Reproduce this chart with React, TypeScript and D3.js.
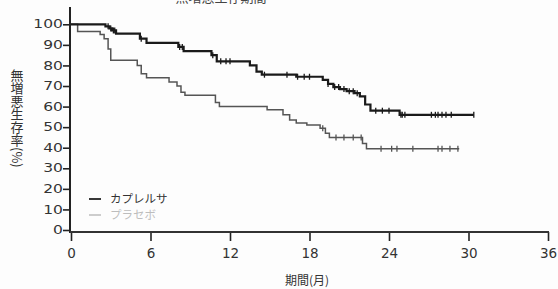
import React, { useEffect, useRef } from "react";
import * as d3 from "d3";

// Kaplan-Meier steps: [month, PFS %]
const caprelsaSteps: [number, number][] = [
  [0, 100], [2.6, 99], [2.9, 98], [3.1, 97], [3.4, 95.5], [5.2, 93], [5.7, 91],
  [8.1, 89], [8.5, 87], [10.6, 85], [11.0, 82], [13.5, 80], [14.0, 77], [14.4, 75.5],
  [17.0, 74.5], [19.0, 73], [19.4, 71], [19.8, 69.5], [20.3, 68.5], [20.8, 67.5],
  [21.4, 66.5], [21.8, 65], [22.2, 61], [22.6, 58], [24.8, 56], [30.4, 56],
];
const placeboSteps: [number, number][] = [
  [0, 100], [0.5, 96.5], [2.2, 95], [2.5, 93], [2.8, 88], [3.0, 82.5], [5.0, 80],
  [5.3, 76], [5.7, 74], [7.4, 72], [8.0, 70], [8.3, 67], [8.6, 65.5], [10.9, 62],
  [11.2, 60], [14.8, 58.5], [16.0, 56], [16.5, 53.5], [17.0, 52], [17.8, 51],
  [18.8, 49.5], [19.2, 47], [19.5, 45], [22.0, 42], [22.3, 39.5], [29.3, 39.5],
];

// censored observations (months)
const caprelsaCensors = [
  2.8, 3.0, 3.2, 3.3, 5.3, 8.2, 8.4, 10.7, 11.3, 11.7, 12.0, 14.6, 16.3, 17.1, 17.6,
  18.0, 19.4, 19.9, 20.2, 20.6, 21.0, 21.3, 21.6, 23.0, 23.5, 24.0, 24.9, 25.0, 25.2,
  27.2, 27.5, 27.7, 28.0, 28.3, 28.7, 30.4,
];
const placeboCensors = [
  19.0, 20.0, 20.6, 21.3, 21.9, 23.4, 24.2, 24.6, 25.8, 27.7, 28.0, 28.6, 29.2,
];

const xTicks = [0, 6, 12, 18, 24, 30, 36];
const yTicks = [0, 10, 20, 30, 40, 50, 60, 70, 80, 90, 100];
const legendItems = [
  { label: "カプレルサ", color: "#333", line: "#222" },
  { label: "プラセボ", color: "#bdbdbd", line: "#c8c8c8" },
];

const FONT = "'Noto Sans CJK JP', 'DejaVu Sans', sans-serif";

function survivalAt(steps: [number, number][], t: number) {
  let v = steps[0][1];
  for (const s of steps) if (s[0] <= t) v = s[1];
  return v;
}

export default function App() {
  const ref = useRef<SVGSVGElement>(null);

  useEffect(() => {
    if (!ref.current) return;
    const svg = d3.select(ref.current);
    svg.selectAll("*").remove();

    const x = d3.scaleLinear().domain([0, 36]).range([71, 548]);
    const y = d3.scaleLinear().domain([0, 100]).range([230, 24.3]);

    svg.append("rect").attr("width", 558).attr("height", 289).attr("fill", "#fdfdfd");

    // title, mostly cut off by the top edge in the scan
    svg
      .append("text")
      .attr("x", 221)
      .attr("y", 1.5)
      .attr("text-anchor", "middle")
      .style("font-family", FONT)
      .style("font-size", "13px")
      .style("fill", "#444")
      .text("無増悪生存期間");

    // y axis
    const yAxis = svg
      .append("g")
      .attr("transform", "translate(70,0)")
      .call(d3.axisLeft(y).tickValues(yTicks).tickSize(7).tickSizeOuter(0));
    yAxis.select(".domain").remove();
    yAxis.selectAll("line").attr("stroke", "#222").attr("stroke-width", 1.6);
    yAxis
      .selectAll("text")
      .attr("x", -5.2)
      .attr("transform", "scale(1.35,1)")
      .style("font-family", "'DejaVu Sans', sans-serif")
      .style("font-size", "11.5px")
      .style("fill", "#333");

    svg
      .append("line")
      .attr("x1", 70)
      .attr("x2", 70)
      .attr("y1", 7)
      .attr("y2", 233)
      .attr("stroke", "#222")
      .attr("stroke-width", 2);

    // x axis
    const xAxis = svg
      .append("g")
      .attr("transform", "translate(0,232)")
      .call(d3.axisBottom(x).tickValues(xTicks).tickSize(9).tickSizeOuter(0));
    xAxis.select(".domain").remove();
    xAxis.selectAll("line").attr("stroke", "#222").attr("stroke-width", 1.6);
    xAxis
      .selectAll("text")
      .attr("y", 16)
      .style("font-family", "'DejaVu Sans', sans-serif")
      .style("font-size", "13.5px")
      .style("fill", "#333");

    svg
      .append("line")
      .attr("x1", 70)
      .attr("x2", 549)
      .attr("y1", 232)
      .attr("y2", 232)
      .attr("stroke", "#333")
      .attr("stroke-width", 1.8);

    // axis titles
    svg
      .append("text")
      .attr("x", 307)
      .attr("y", 285)
      .attr("text-anchor", "middle")
      .style("font-family", FONT)
      .style("font-size", "12px")
      .style("fill", "#333")
      .text("期間(月)");

    svg
      .append("text")
      .attr("x", 17)
      .attr("y", 69)
      .style("writing-mode", "vertical-rl")
      .style("font-family", FONT)
      .style("font-size", "13px")
      .style("fill", "#333")
      .text("無増悪生存率(%)");

    // curves
    const line = d3
      .line<[number, number]>()
      .x((d) => x(d[0]))
      .y((d) => y(d[1]))
      .curve(d3.curveStepAfter);

    const series = [
      { steps: placeboSteps, censors: placeboCensors, color: "#555", width: 1.5 },
      { steps: caprelsaSteps, censors: caprelsaCensors, color: "#1a1a1a", width: 2.2 },
    ];

    series.forEach((s) => {
      svg
        .append("path")
        .datum(s.steps)
        .attr("fill", "none")
        .attr("stroke", s.color)
        .attr("stroke-width", s.width)
        .attr("d", line);

      svg
        .selectAll(null)
        .data(s.censors)
        .enter()
        .append("line")
        .attr("x1", (d) => x(d))
        .attr("x2", (d) => x(d))
        .attr("y1", (d) => y(survivalAt(s.steps, d)) - 3)
        .attr("y2", (d) => y(survivalAt(s.steps, d)) + 3)
        .attr("stroke", s.color)
        .attr("stroke-width", 1.3);
    });

    // legend
    const legend = svg.append("g").attr("transform", "translate(89,199)");
    legendItems.forEach((item, i) => {
      legend
        .append("line")
        .attr("x1", 0)
        .attr("x2", 12)
        .attr("y1", i * 16)
        .attr("y2", i * 16)
        .attr("stroke", item.line)
        .attr("stroke-width", 1.8);
      legend
        .append("text")
        .attr("x", 21)
        .attr("y", i * 16)
        .attr("dy", "0.38em")
        .style("font-family", FONT)
        .style("font-size", "11.5px")
        .style("fill", item.color)
        .text(item.label);
    });
  }, []);

  return (
    <svg
      ref={ref}
      width={558}
      height={289}
      style={{ position: "absolute", left: 0, top: 0, display: "block" }}
    />
  );
}
